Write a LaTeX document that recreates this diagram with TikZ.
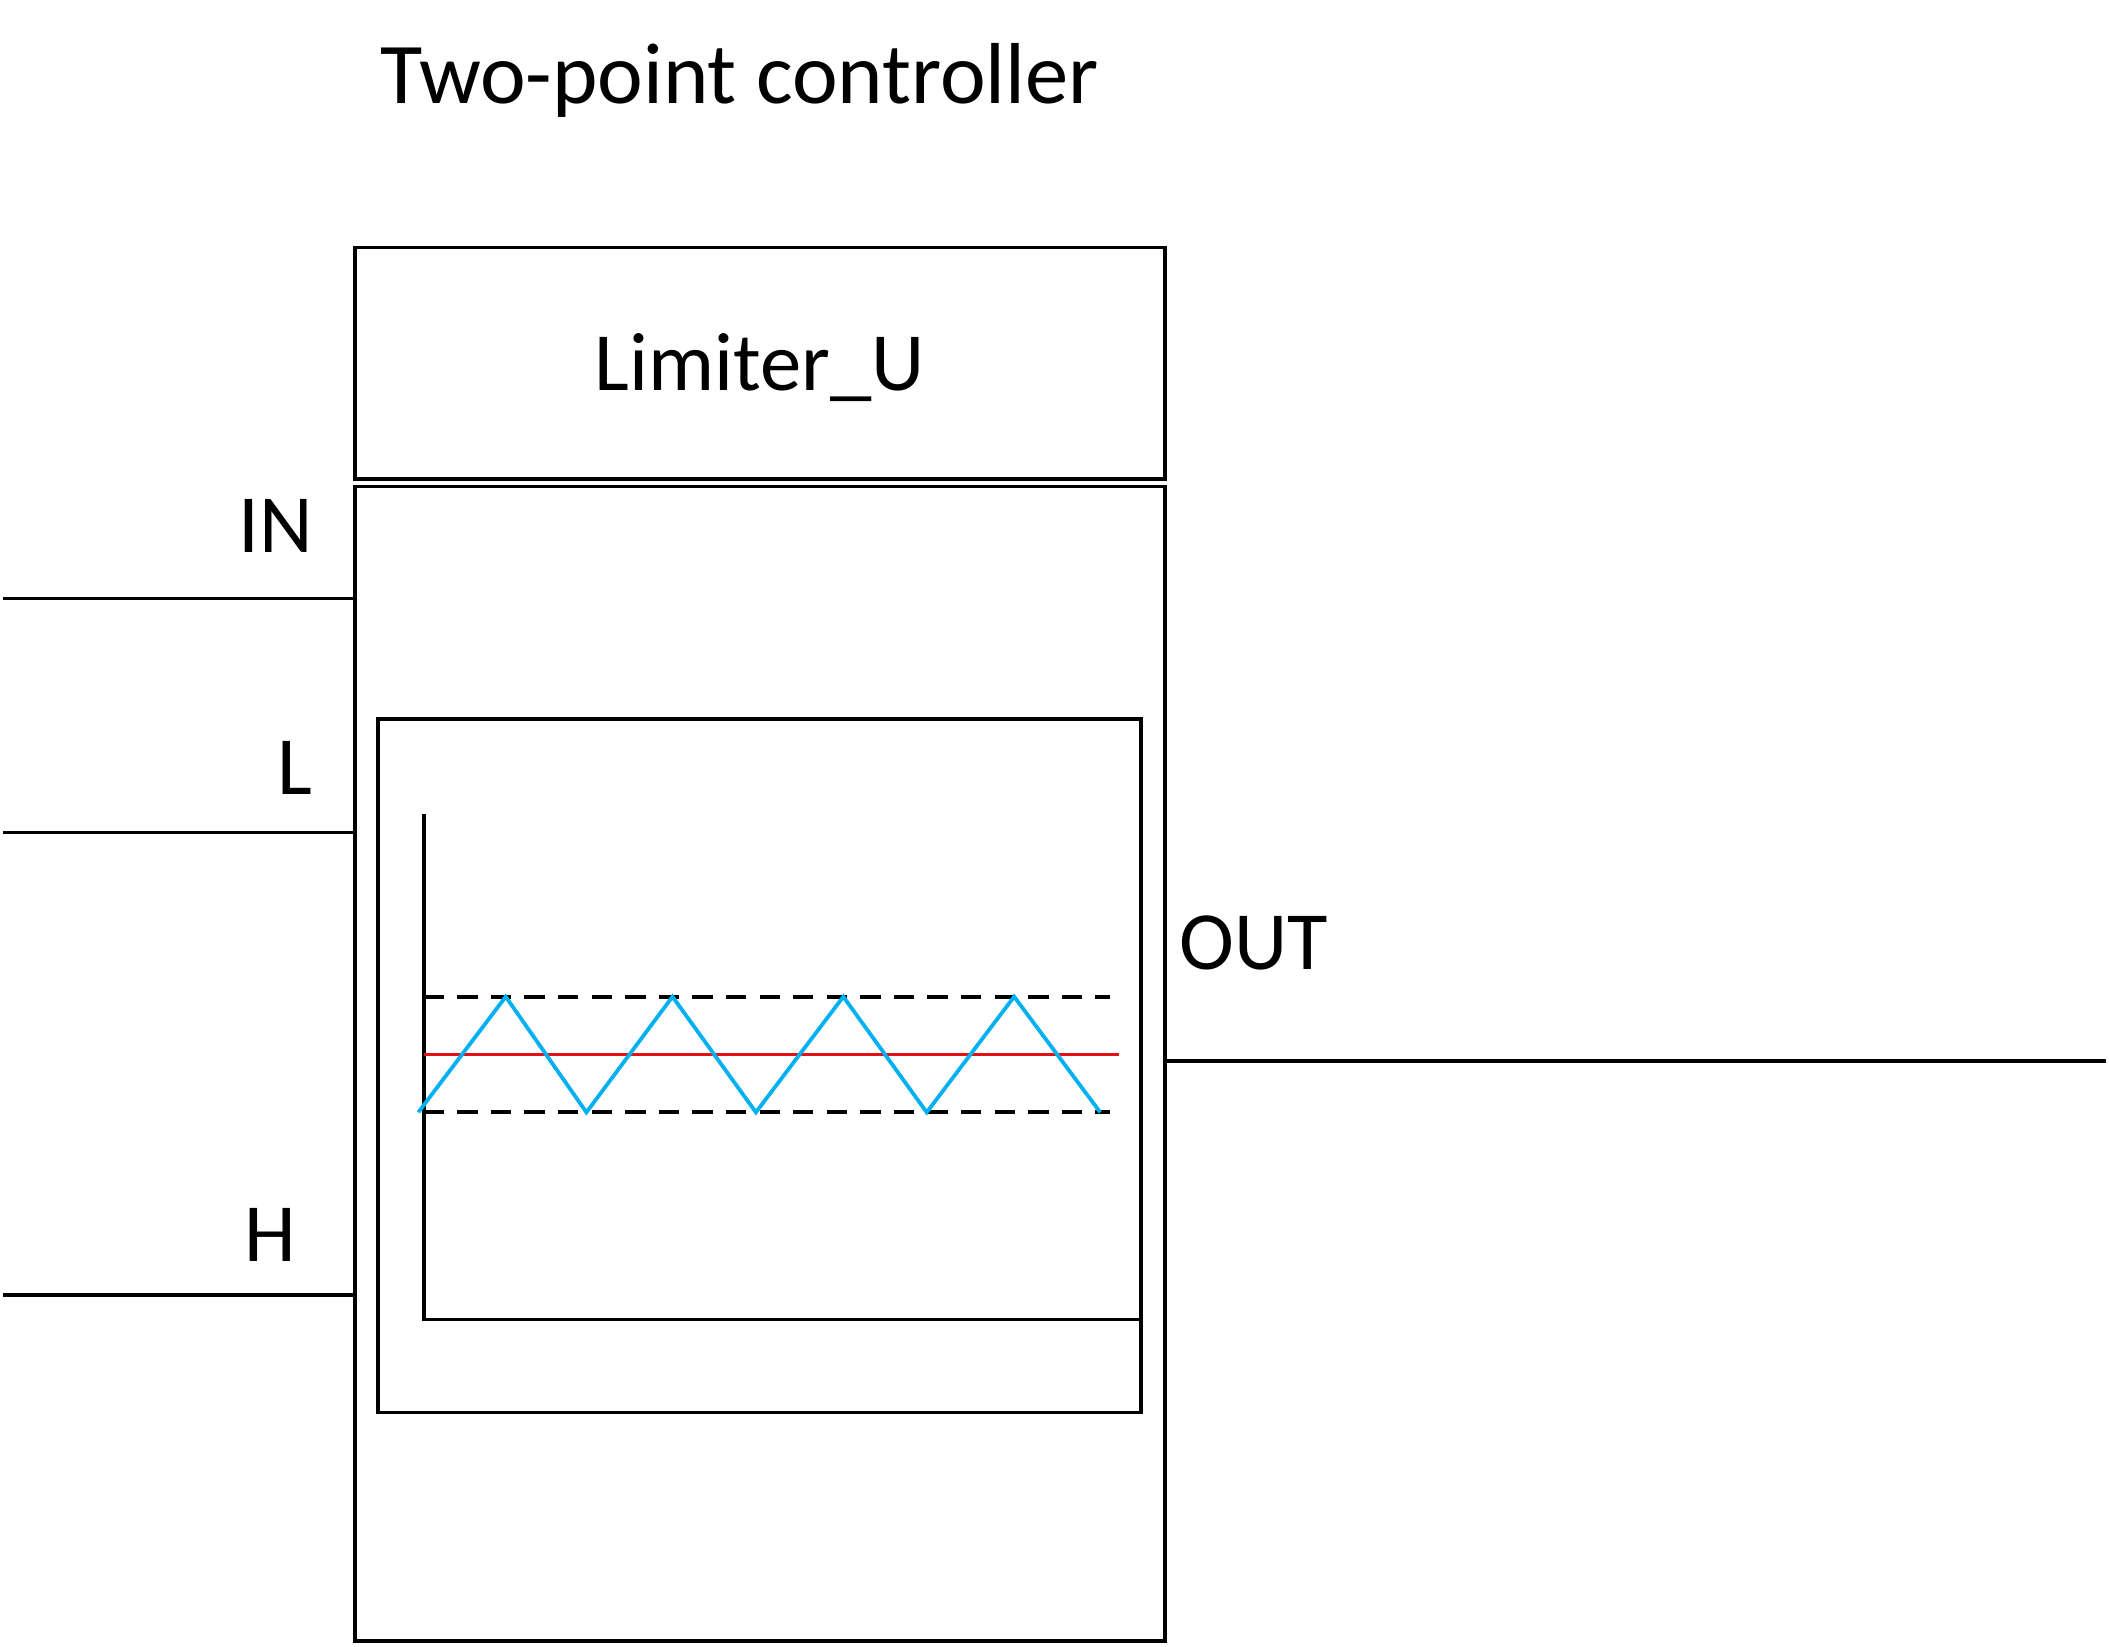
\documentclass[tikz,border=0pt]{standalone}
\usepackage{fontspec}
\setmainfont{Carlito}
\definecolor{sigblue}{RGB}{0,176,240}
\definecolor{sigred}{RGB}{228,16,20}

\begin{document}
\begin{tikzpicture}[x=0.01cm,y=-0.01cm,line width=0.8pt,
    lbl/.style={inner sep=0pt,anchor=base,font=\fontsize{17.5}{20}\selectfont},
    blk/.style={draw,inner sep=0pt},
    wire/.style={line width=0.8pt}]
  \useasboundingbox (0,0) rectangle (1568,1224);
  % blocks
  \node[blk,minimum width=6.02cm,minimum height=1.72cm] (lim) at (565,270) {};
  \node[blk,minimum width=6.02cm,minimum height=8.58cm] (ctrl) at (565,791) {};
  \node[blk,minimum width=5.67cm,minimum height=5.15cm] (plot) at (564.5,792.5) {};
  \node[lbl,font=\fontsize{18.3}{20}\selectfont] (title) at (550,77) {Two-point controller};
  \node[lbl] (limtxt) at (565,290) {Limiter\_U};
  % ports
  \coordinate (inA) at (2,445);
  \coordinate (lA) at (2,619);
  \coordinate (hA) at (2,963);
  \coordinate (outB) at (1566,789);
  \draw[wire] (inA) -- (inA -| ctrl.west);
  \draw[wire] (lA) -- (lA -| ctrl.west);
  \draw[wire] (hA) -- (hA -| ctrl.west);
  \draw[wire] (outB -| ctrl.east) -- (outB);
  \node[lbl] (in) at (205,411) {IN};
  \node[lbl] (l) at (219,591) {L};
  \node[lbl] (h) at (201,938) {H};
  \node[lbl] (out) at (932,721) {OUT};
  % plot
  \coordinate (o) at (315,981);
  \draw (315,605) -- (o) -- (o -| plot.east);
  \draw[dash pattern=on 4.3pt off 2.8pt] (315,741) -- (825,741);
  \draw[dash pattern=on 4.3pt off 2.8pt] (315,827) -- (825,827);
  \draw[sigred] (315,784) -- (832,784);
  \draw[sigblue] (311,827) -- (376,741) -- (436,827) -- (500,741) -- (562,827)
    -- (627,741) -- (689,827) -- (754,741) -- (818,827);
\end{tikzpicture}
\end{document}
